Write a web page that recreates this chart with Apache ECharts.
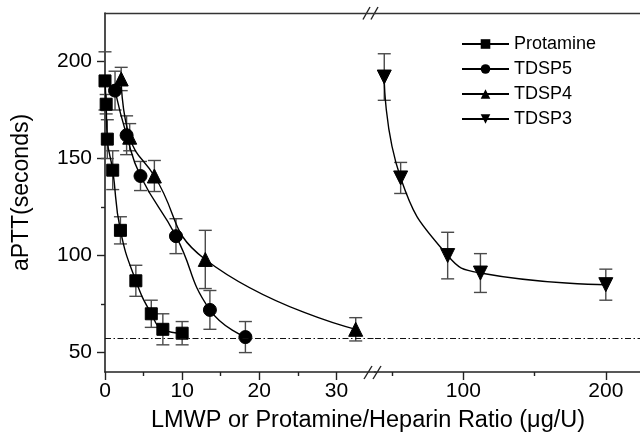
<!DOCTYPE html>
<html>
<head>
<meta charset="utf-8">
<script src="https://cdn.jsdelivr.net/npm/echarts@6/dist/echarts.min.js"></script>
<style>html,body{margin:0;padding:0;background:#fff}#c{width:640px;height:439px}</style>
</head>
<body>
<div id="c"></div>
<script>
// ---- data ----
const protamineX = [0, 0.15, 0.3, 1, 2, 4, 6, 7.5, 10];
const protamineY = [190, 178, 160, 144, 113, 87, 70, 62, 60];
const protamineErr = [15, 5, 10, 10, 7, 8, 7, 8, 6];

const tdsp5X = [1.3, 2.8, 4.6, 9.2, 13.6, 18.2];
const tdsp5Y = [185, 162, 141, 110, 72, 58];
const tdsp5Err = [10, 10, 7.5, 9, 10, 8];

const tdsp4X = [2.1, 3.2, 6.4, 13, 32.5];
const tdsp4Y = [191, 161, 141, 98, 62];
const tdsp4Err = [6, 7, 8, 15, 6];

const tdsp3X = [44.5, 56, 89, 112, 200];
const tdsp3Y = [192, 140, 100, 91, 85];
const tdsp3Err = [12, 8, 12, 10, 8];

const baselineValue = 57.5;

const seriesNames = ['Protamine', 'TDSP5', 'TDSP4', 'TDSP3'];
const yTickLabels = [50, 100, 150, 200];
const yMinorTicks = [75, 125, 175];
const xLeftTickLabels = [0, 10, 20, 30];
const xLeftMinorTicks = [5, 15, 25];
const xRightTickLabels = [100, 200];
const xRightMinorTicks = [50, 150];

const yRange = [40, 225];
const xLeftRange = [0, 35];
const xRightRange = [38, 224];

// ---- helpers ----
const FONT = 'Liberation Sans, Arial, Helvetica, sans-serif';
const zip = (xs, ys) => xs.map((x, i) => [x, ys[i]]);
const zip3 = (xs, ys, es) => xs.map((x, i) => [x, ys[i], es[i]]);

function errRender(params, api) {
  const x = api.value(0), y = api.value(1), e = api.value(2);
  const t = api.coord([x, y + e]);
  const b = api.coord([x, y - e]);
  const h = 6.5;
  const st = { stroke: '#4a4a4a', lineWidth: 1.4 };
  return {
    type: 'group',
    children: [
      { type: 'line', shape: { x1: t[0], y1: t[1], x2: b[0], y2: b[1] }, style: st },
      { type: 'line', shape: { x1: t[0] - h, y1: t[1], x2: t[0] + h, y2: t[1] }, style: st },
      { type: 'line', shape: { x1: b[0] - h, y1: b[1], x2: b[0] + h, y2: b[1] }, style: st }
    ]
  };
}

function errSeries(name, xs, ys, es, xi, yi) {
  return {
    type: 'custom', name: name + ' err', xAxisIndex: xi, yAxisIndex: yi,
    renderItem: errRender, data: zip3(xs, ys, es), encode: { x: 0, y: 1 },
    z: 1, silent: true
  };
}

const markBase = {
  symbol: 'none', silent: true, label: { show: false },
  lineStyle: { type: [6, 2.5, 1.5, 2.5], color: '#111', width: 1 },
  data: [{ yAxis: baselineValue }]
};

function lineSeries(name, xs, ys, symbol, size, xi, yi, extra) {
  return Object.assign({
    type: 'line', name: name, xAxisIndex: xi, yAxisIndex: yi,
    data: zip(xs, ys), symbol: symbol, symbolSize: size, showAllSymbol: true,
    smooth: 0.5,
    lineStyle: { color: '#000', width: 1.4 },
    itemStyle: { color: '#000', borderColor: '#000' },
    z: 3
  }, extra || {});
}

const axisLineStyle = { show: true, lineStyle: { color: '#222', width: 1.6 } };
const labelStyle = { color: '#000', fontSize: 21, fontFamily: FONT };

const gridTop = 13, gridH = 359;

const option = {
  animation: false,
  backgroundColor: '#fff',
  grid: [
    { left: 105, top: gridTop, width: 270, height: gridH },
    { left: 375, top: gridTop, width: 265, height: gridH }
  ],
  xAxis: [
    { // 0 left main
      type: 'value', gridIndex: 0, position: 'bottom', min: xLeftRange[0], max: xLeftRange[1],
      axisLine: axisLineStyle, splitLine: { show: false },
      axisTick: { show: true, inside: false, length: 8, customValues: xLeftTickLabels, lineStyle: { color: '#222', width: 1.4 } },
      axisLabel: Object.assign({ margin: 9, customValues: xLeftTickLabels }, labelStyle)
    },
    { // 1 left minor
      type: 'value', gridIndex: 0, position: 'bottom', min: xLeftRange[0], max: xLeftRange[1],
      axisLine: { show: false }, splitLine: { show: false }, axisLabel: { show: false },
      axisTick: { show: true, length: 4, customValues: xLeftMinorTicks, lineStyle: { color: '#222', width: 1.4 } }
    },
    { // 2 left top frame
      type: 'value', gridIndex: 0, position: 'top', min: xLeftRange[0], max: xLeftRange[1],
      axisLine: { show: true, lineStyle: { color: '#333', width: 1.4 } },
      splitLine: { show: false }, axisLabel: { show: false }, axisTick: { show: false }
    },
    { // 3 right main
      type: 'value', gridIndex: 1, position: 'bottom', min: xRightRange[0], max: xRightRange[1],
      axisLine: axisLineStyle, splitLine: { show: false },
      axisTick: { show: true, length: 8, customValues: xRightTickLabels, lineStyle: { color: '#222', width: 1.4 } },
      axisLabel: Object.assign({ margin: 9, customValues: xRightTickLabels }, labelStyle)
    },
    { // 4 right minor
      type: 'value', gridIndex: 1, position: 'bottom', min: xRightRange[0], max: xRightRange[1],
      axisLine: { show: false }, splitLine: { show: false }, axisLabel: { show: false },
      axisTick: { show: true, length: 4, customValues: xRightMinorTicks, lineStyle: { color: '#222', width: 1.4 } }
    },
    { // 5 right top frame
      type: 'value', gridIndex: 1, position: 'top', min: xRightRange[0], max: xRightRange[1],
      axisLine: { show: true, lineStyle: { color: '#333', width: 1.4 } },
      splitLine: { show: false }, axisLabel: { show: false }, axisTick: { show: false }
    }
  ],
  yAxis: [
    { // 0 main
      type: 'value', gridIndex: 0, position: 'left', min: yRange[0], max: yRange[1],
      axisLine: axisLineStyle, splitLine: { show: false },
      axisTick: { show: true, length: 8, customValues: yTickLabels, lineStyle: { color: '#222', width: 1.4 } },
      axisLabel: Object.assign({ margin: 13, customValues: yTickLabels }, labelStyle),
      name: 'aPTT(seconds)', nameLocation: 'middle', nameGap: 72,
      nameTextStyle: { color: '#000', fontSize: 23, fontFamily: FONT }
    },
    { // 1 minor
      type: 'value', gridIndex: 0, position: 'left', min: yRange[0], max: yRange[1],
      axisLine: { show: false }, splitLine: { show: false }, axisLabel: { show: false },
      axisTick: { show: true, length: 4, customValues: yMinorTicks, lineStyle: { color: '#222', width: 1.4 } }
    },
    { // 2 right grid hidden
      type: 'value', gridIndex: 1, min: yRange[0], max: yRange[1], show: false
    }
  ],
  legend: {
    data: seriesNames,
    orient: 'vertical', left: 456, top: 30,
    itemWidth: 47, itemHeight: 12, itemGap: 7,
    textStyle: { color: '#000', fontSize: 18, fontFamily: FONT },
    selectedMode: false
  },
  graphic: [
    {
      type: 'text', x: 368, y: 409,
      style: { text: 'LMWP or Protamine/Heparin Ratio (\u03bcg/U)', fill: '#000', font: '23.5px ' + FONT, textAlign: 'center' }
    },
    // axis break marks (top)
    { type: 'line', shape: { x1: 363, y1: 19.5, x2: 370, y2: 7 }, style: { stroke: '#222', lineWidth: 1.4 } },
    { type: 'line', shape: { x1: 371, y1: 19.5, x2: 378, y2: 7 }, style: { stroke: '#222', lineWidth: 1.4 } },
    // axis break marks (bottom)
    { type: 'line', shape: { x1: 364, y1: 379, x2: 372, y2: 366 }, style: { stroke: '#222', lineWidth: 1.4 } },
    { type: 'line', shape: { x1: 373, y1: 379, x2: 381, y2: 366 }, style: { stroke: '#222', lineWidth: 1.4 } }
  ],
  series: [
    errSeries('Protamine', protamineX, protamineY, protamineErr, 0, 0),
    errSeries('TDSP5', tdsp5X, tdsp5Y, tdsp5Err, 0, 0),
    errSeries('TDSP4', tdsp4X, tdsp4Y, tdsp4Err, 0, 0),
    errSeries('TDSP3', tdsp3X, tdsp3Y, tdsp3Err, 3, 2),
    lineSeries('Protamine', protamineX, protamineY, 'rect', 12, 0, 0, { markLine: markBase }),
    lineSeries('TDSP5', tdsp5X, tdsp5Y, 'circle', 13, 0, 0),
    lineSeries('TDSP4', tdsp4X, tdsp4Y, 'triangle', 14, 0, 0),
    lineSeries('TDSP3', tdsp3X, tdsp3Y, 'path://M0,0 L10,0 L5,9 Z', 14, 3, 2, { markLine: markBase })
  ]
};

const chart = echarts.init(document.getElementById('c'), null, { renderer: 'canvas' });
chart.setOption(option);
</script>
</body>
</html>
